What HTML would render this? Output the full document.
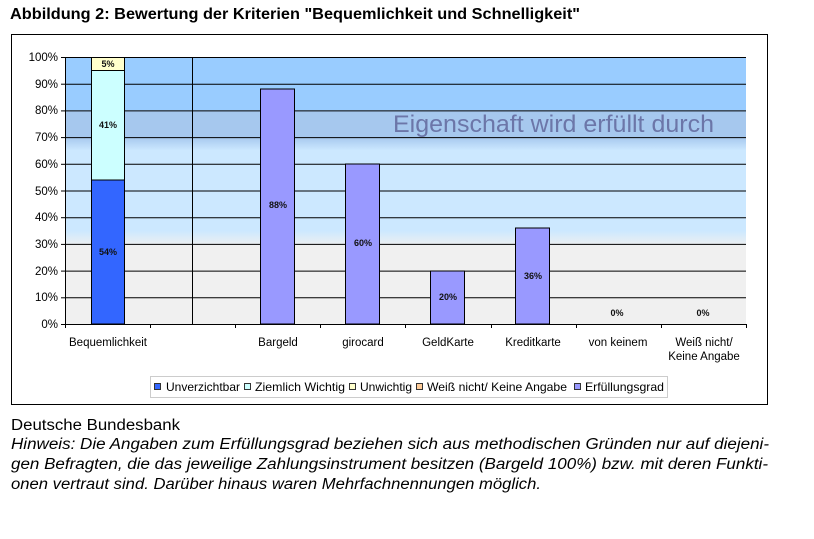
<!DOCTYPE html>
<html><head><meta charset="utf-8"><style>
body{margin:0;background:#fff;width:814px;height:534px;overflow:hidden;font-family:"Liberation Sans",Arial,sans-serif}
</style></head><body>
<svg width="814" height="534" xmlns="http://www.w3.org/2000/svg" font-family="Liberation Sans, Arial, sans-serif">
<defs>
<linearGradient id="g1" x1="0" y1="0" x2="0" y2="1"><stop offset="0" stop-color="#a6c8ee"/><stop offset="1" stop-color="#cce8ff"/></linearGradient>
<linearGradient id="g2" x1="0" y1="0" x2="0" y2="1"><stop offset="0" stop-color="#cce8ff"/><stop offset="1" stop-color="#f0f0f0"/></linearGradient>
</defs>
<text x="10" y="19" font-size="15.5" font-weight="bold" fill="#000" textLength="570" lengthAdjust="spacingAndGlyphs">Abbildung 2: Bewertung der Kriterien "Bequemlichkeit und Schnelligkeit"</text>
<rect x="11.5" y="34.5" width="756" height="370" fill="#fff" stroke="#000" stroke-width="1"/>
<rect x="65" y="57" width="681" height="53.4" fill="#99ccff"/>
<rect x="65" y="110.4" width="681" height="26.7" fill="#a6c8ee"/>
<rect x="65" y="137.1" width="681" height="13.4" fill="url(#g1)"/>
<rect x="65" y="150.5" width="681" height="80" fill="#cce8ff"/>
<rect x="65" y="230.5" width="681" height="16" fill="url(#g2)"/>
<rect x="65" y="246.5" width="681" height="77.5" fill="#f0f0f0"/>
<g stroke="#000" stroke-width="1">
<line x1="65" y1="57.5" x2="746" y2="57.5"/>
<line x1="65" y1="84.2" x2="746" y2="84.2"/>
<line x1="65" y1="110.9" x2="746" y2="110.9"/>
<line x1="65" y1="137.6" x2="746" y2="137.6"/>
<line x1="65" y1="164.3" x2="746" y2="164.3"/>
<line x1="65" y1="191" x2="746" y2="191"/>
<line x1="65" y1="217.7" x2="746" y2="217.7"/>
<line x1="65" y1="244.4" x2="746" y2="244.4"/>
<line x1="65" y1="271.1" x2="746" y2="271.1"/>
<line x1="65" y1="297.8" x2="746" y2="297.8"/>
<line x1="65" y1="324.5" x2="746" y2="324.5"/>
<line x1="192.5" y1="57" x2="192.5" y2="324"/>
<line x1="65.5" y1="57" x2="65.5" y2="328"/>
<line x1="61" y1="57.5" x2="65" y2="57.5"/><line x1="61" y1="84.2" x2="65" y2="84.2"/><line x1="61" y1="110.9" x2="65" y2="110.9"/><line x1="61" y1="137.6" x2="65" y2="137.6"/><line x1="61" y1="164.3" x2="65" y2="164.3"/><line x1="61" y1="191" x2="65" y2="191"/><line x1="61" y1="217.7" x2="65" y2="217.7"/><line x1="61" y1="244.4" x2="65" y2="244.4"/><line x1="61" y1="271.1" x2="65" y2="271.1"/><line x1="61" y1="297.8" x2="65" y2="297.8"/><line x1="61" y1="324.5" x2="65" y2="324.5"/>
<line x1="150.5" y1="324" x2="150.5" y2="328"/><line x1="235.5" y1="324" x2="235.5" y2="328"/><line x1="320.5" y1="324" x2="320.5" y2="328"/><line x1="405.5" y1="324" x2="405.5" y2="328"/><line x1="491.5" y1="324" x2="491.5" y2="328"/><line x1="576.5" y1="324" x2="576.5" y2="328"/><line x1="661.5" y1="324" x2="661.5" y2="328"/><line x1="746.5" y1="324" x2="746.5" y2="328"/>
</g>
<text x="393" y="132" font-size="24" fill="#6c76a8" textLength="321" lengthAdjust="spacingAndGlyphs">Eigenschaft wird erfüllt durch</text>
<g stroke="#000" stroke-width="1">
<rect x="91.5" y="180" width="33" height="144" fill="#3366ff"/>
<rect x="91.5" y="70.5" width="33" height="109.5" fill="#ccffff"/>
<rect x="91.5" y="57.5" width="33" height="13" fill="#ffffcc"/>
<rect x="260.5" y="89" width="34" height="235" fill="#9999ff"/>
<rect x="345.5" y="164" width="34" height="160" fill="#9999ff"/>
<rect x="430.5" y="271" width="34" height="53" fill="#9999ff"/>
<rect x="515.5" y="228" width="34" height="96" fill="#9999ff"/>
</g>
<g font-size="9" font-weight="bold" fill="#111" text-anchor="middle">
<text x="108" y="255">54%</text><text x="108" y="128">41%</text><text x="108" y="67">5%</text>
<text x="278" y="208">88%</text><text x="363" y="246">60%</text><text x="448" y="300">20%</text><text x="533" y="279">36%</text>
<text x="617" y="316">0%</text><text x="703" y="316">0%</text>
</g>
<g font-size="11.5" fill="#000" text-anchor="end">
<text x="58" y="61">100%</text><text x="58" y="88">90%</text><text x="58" y="114">80%</text><text x="58" y="141">70%</text><text x="58" y="168">60%</text><text x="58" y="195">50%</text><text x="58" y="221">40%</text><text x="58" y="248">30%</text><text x="58" y="275">20%</text><text x="58" y="301">10%</text><text x="58" y="328">0%</text>
</g>
<g font-size="11.5" fill="#000" text-anchor="middle">
<text x="108" y="346">Bequemlichkeit</text><text x="278" y="346">Bargeld</text><text x="363" y="346">girocard</text><text x="448" y="346">GeldKarte</text><text x="533" y="346">Kreditkarte</text><text x="618" y="346">von keinem</text><text x="704" y="346">Weiß nicht/</text><text x="704" y="360">Keine Angabe</text>
</g>
<rect x="150.5" y="376.5" width="517" height="21" fill="#fff" stroke="#ccc"/>
<g font-size="12" fill="#000">
<rect x="154.5" y="383.5" width="6" height="6" fill="#3366ff" stroke="#333"/><text x="166" y="391" textLength="74" lengthAdjust="spacingAndGlyphs">Unverzichtbar</text>
<rect x="244.5" y="383.5" width="6" height="6" fill="#ccffff" stroke="#333"/><text x="255" y="391" textLength="90" lengthAdjust="spacingAndGlyphs">Ziemlich Wichtig</text>
<rect x="349.5" y="383.5" width="6" height="6" fill="#ffffcc" stroke="#333"/><text x="360" y="391" textLength="52" lengthAdjust="spacingAndGlyphs">Unwichtig</text>
<rect x="416.5" y="383.5" width="6" height="6" fill="#ffcc99" stroke="#333"/><text x="427" y="391" textLength="140" lengthAdjust="spacingAndGlyphs">Weiß nicht/ Keine Angabe</text>
<rect x="574.5" y="383.5" width="6" height="6" fill="#9999ff" stroke="#333"/><text x="585" y="391" textLength="79" lengthAdjust="spacingAndGlyphs">Erfüllungsgrad</text>
</g>
<g font-size="15.5" fill="#000">
<text x="11" y="430" textLength="169" lengthAdjust="spacingAndGlyphs">Deutsche Bundesbank</text>
<text x="11" y="449" font-style="italic" textLength="758" lengthAdjust="spacingAndGlyphs">Hinweis: Die Angaben zum Erfüllungsgrad beziehen sich aus methodischen Gründen nur auf diejeni-</text>
<text x="11" y="469" font-style="italic" textLength="757" lengthAdjust="spacingAndGlyphs">gen Befragten, die das jeweilige Zahlungsinstrument besitzen (Bargeld 100%) bzw. mit deren Funkti-</text>
<text x="11" y="489" font-style="italic" textLength="530" lengthAdjust="spacingAndGlyphs">onen vertraut sind. Darüber hinaus waren Mehrfachnennungen möglich.</text>
</g>
</svg>
</body></html>
